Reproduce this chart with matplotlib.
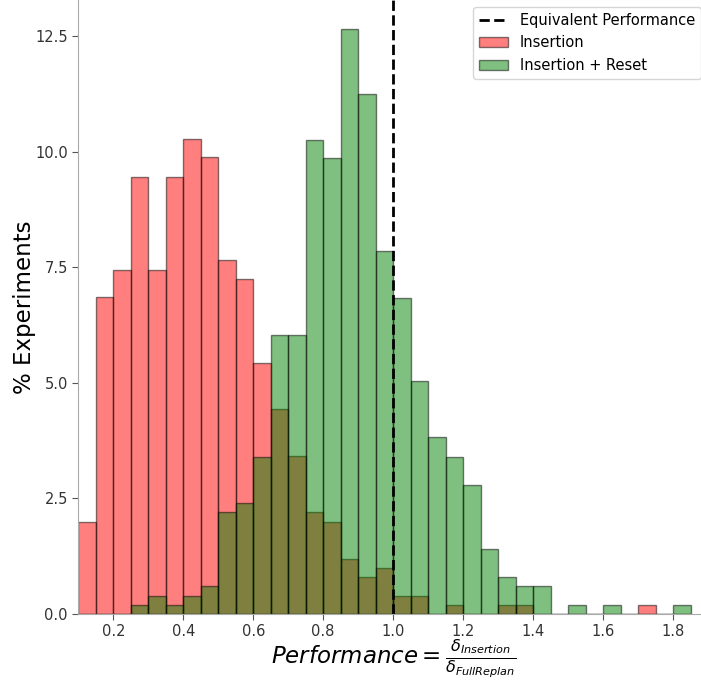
import matplotlib
matplotlib.use("Agg")
import matplotlib.pyplot as plt
import numpy as np

# Bin left edges (width 0.05)
bin_lefts = [0.10, 0.15, 0.20, 0.25, 0.30, 0.35, 0.40, 0.45, 0.50, 0.55,
             0.60, 0.65, 0.70, 0.75, 0.80, 0.85, 0.90, 0.95, 1.00, 1.05,
             1.10, 1.15, 1.20, 1.25, 1.30, 1.35, 1.40, 1.45, 1.50, 1.55,
             1.60, 1.65, 1.70, 1.75, 1.80]
bin_width = 0.05

insertion = [2.0, 6.85, 7.45, 9.45, 7.45, 9.45, 10.28, 9.88, 7.65, 7.25,
             5.42, 4.44, 3.42, 2.2, 2.0, 1.2, 0.8, 1.0, 0.4, 0.4,
             0.0, 0.2, 0.0, 0.0, 0.2, 0.2, 0.0, 0.0, 0.0, 0.0,
             0.0, 0.0, 0.2, 0.0, 0.0]

insertion_reset = [0.0, 0.0, 0.0, 0.2, 0.4, 0.2, 0.4, 0.6, 2.2, 2.4,
                   3.4, 6.04, 6.04, 10.25, 9.86, 12.65, 11.25, 7.85, 6.84, 5.03,
                   3.82, 3.4, 2.8, 1.4, 0.8, 0.6, 0.6, 0.0, 0.2, 0.0,
                   0.2, 0.0, 0.0, 0.0, 0.2]

ref_x = 1.0

W, H = 701, 681
fig = plt.figure(figsize=(W / 100, H / 100), dpi=100)
ax = fig.add_axes([78.3 / W, 67 / H, 629.7 / W, 614 / H])

ax.bar(bin_lefts, insertion, width=bin_width, align='edge', color='red',
       alpha=0.5, edgecolor='black', linewidth=1, label='Insertion')
ax.bar(bin_lefts, insertion_reset, width=bin_width, align='edge', color='green',
       alpha=0.5, edgecolor='black', linewidth=1, label='Insertion + Reset')
ax.axvline(ref_x, color='black', linestyle='--', linewidth=2,
           label='Equivalent Performance')

ax.set_xlim(0.1, 1.9)
ax.set_ylim(0, max(insertion_reset) * 1.05)
ax.set_xticks([0.2, 0.4, 0.6, 0.8, 1.0, 1.2, 1.4, 1.6, 1.8])
ax.set_yticks([0.0, 2.5, 5.0, 7.5, 10.0, 12.5])

for s in ['top', 'right']:
    ax.spines[s].set_visible(False)
for s in ['left', 'bottom']:
    ax.spines[s].set_color('#aaaaaa')
ax.tick_params(axis='both', labelsize=10.5, colors='#333333', length=4)
ax.tick_params(axis='both', color='#555555')

ax.set_ylabel('% Experiments', fontsize=16.5, labelpad=-0.5)
ax.set_xlabel(r'$Performance = \frac{\delta_{Insertion}}{\delta_{FullReplan}}$',
              fontsize=16.5, labelpad=-1)

ax.legend(loc='upper right', fontsize=10.5)

fig.savefig('out.png', dpi=100)
